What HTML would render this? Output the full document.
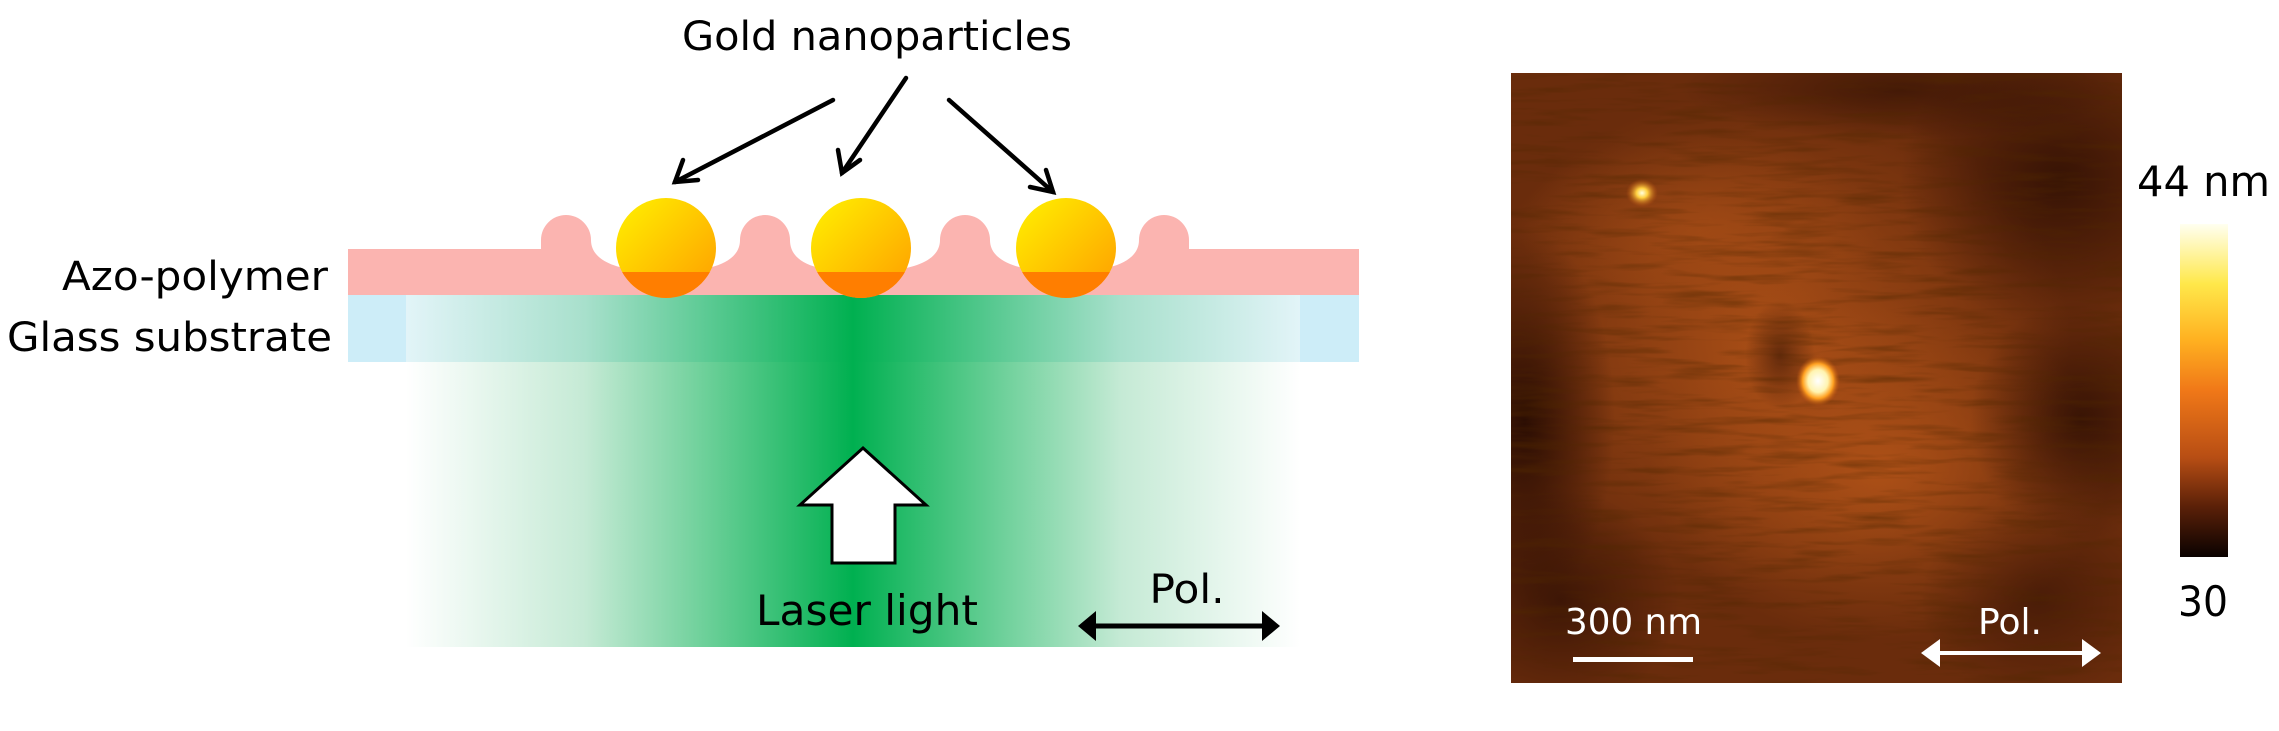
<!DOCTYPE html>
<html><head><meta charset="utf-8"><style>
html,body{margin:0;padding:0;background:#fff;}
svg{display:block;font-family:"DejaVu Sans","Liberation Sans",sans-serif;}
</style></head><body>
<svg width="2279" height="731" viewBox="0 0 2279 731" xmlns="http://www.w3.org/2000/svg">
<defs>
<linearGradient id="beam" x1="406" x2="1300" y1="0" y2="0" gradientUnits="userSpaceOnUse">
<stop offset="0" stop-color="#ffffff"/>
<stop offset="0.2" stop-color="#c5ead5"/>
<stop offset="0.5" stop-color="#00b050"/>
<stop offset="0.8" stop-color="#c5ead5"/>
<stop offset="1" stop-color="#ffffff"/>
</linearGradient>
<linearGradient id="glass" x1="406" x2="1300" y1="0" y2="0" gradientUnits="userSpaceOnUse">
<stop offset="0" stop-color="#e2f4f8"/>
<stop offset="0.2" stop-color="#a8e0cc"/>
<stop offset="0.5" stop-color="#00b050"/>
<stop offset="0.8" stop-color="#a8e0cc"/>
<stop offset="1" stop-color="#e2f4f8"/>
</linearGradient>
<linearGradient id="gold" x1="0" y1="0" x2="1" y2="1">
<stop offset="0" stop-color="#fff200"/>
<stop offset="1" stop-color="#ff9c00"/>
</linearGradient>
<clipPath id="low"><rect x="0" y="272" width="1400" height="40"/></clipPath>
<linearGradient id="cbar" x1="0" y1="0" x2="0" y2="1">
<stop offset="0" stop-color="#fffff0"/>
<stop offset="0.18" stop-color="#ffe84a"/>
<stop offset="0.35" stop-color="#ffb020"/>
<stop offset="0.5" stop-color="#f07818"/>
<stop offset="0.7" stop-color="#b84e14"/>
<stop offset="0.85" stop-color="#5a2008"/>
<stop offset="1" stop-color="#0a0200"/>
</linearGradient>
<radialGradient id="spot1"><stop offset="0" stop-color="#ffffe0"/><stop offset="0.35" stop-color="#ffd040"/><stop offset="1" stop-color="#c05010" stop-opacity="0"/></radialGradient>
<radialGradient id="spot2"><stop offset="0" stop-color="#ffffff"/><stop offset="0.45" stop-color="#fff4b0"/><stop offset="0.7" stop-color="#ffa020"/><stop offset="1" stop-color="#c05010" stop-opacity="0"/></radialGradient>
<radialGradient id="darkR"><stop offset="0" stop-color="#1a0500" stop-opacity="0.8"/><stop offset="1" stop-color="#1a0500" stop-opacity="0"/></radialGradient>
<radialGradient id="lightR"><stop offset="0" stop-color="#b45418" stop-opacity="0.85"/><stop offset="1" stop-color="#b45418" stop-opacity="0"/></radialGradient>
<filter id="noise" x="0" y="0" width="100%" height="100%">
<feTurbulence type="fractalNoise" baseFrequency="0.012 0.12" numOctaves="3" seed="5"/>
<feColorMatrix values="0 0 0 0 0.08  0 0 0 0 0.02  0 0 0 0 0  0 0 0 -1.1 0.6"/>
</filter>
<clipPath id="afm"><rect x="1511" y="73" width="611" height="610"/></clipPath>
</defs>

<rect x="406" y="295" width="894" height="352" fill="url(#beam)"/>
<rect x="348" y="295" width="1011" height="67" fill="#cdedf8"/>
<rect x="406" y="295" width="894" height="67" fill="url(#glass)"/>
<path d="M348,295 L348,249 L541,249 L541,240 A25,25 0 0 1 591,240 C591,262 620,272 666,272 C712,272 740,262 740,240 A25,25 0 0 1 790,240 C790,262 814,272 862,272 C910,272 940,262 940,240 A25,25 0 0 1 990,240 C990,262 1020,272 1065,272 C1110,272 1139,262 1139,240 A25,25 0 0 1 1189,240 L1189,249 L1359,249 L1359,295 Z" fill="#fbb4b0"/>
<g>
<circle cx="666" cy="248" r="50" fill="url(#gold)"/>
<circle cx="666" cy="248" r="50" fill="#ff7e00" clip-path="url(#low)"/>
<circle cx="861" cy="248" r="50" fill="url(#gold)"/>
<circle cx="861" cy="248" r="50" fill="#ff7e00" clip-path="url(#low)"/>
<circle cx="1066" cy="248" r="50" fill="url(#gold)"/>
<circle cx="1066" cy="248" r="50" fill="#ff7e00" clip-path="url(#low)"/>
</g>
<g stroke="#000" stroke-width="4.5" fill="none" stroke-linecap="round">
<line x1="833" y1="100" x2="675" y2="182"/>
<polyline points="683,160 675,182 698,180"/>
<line x1="906" y1="78" x2="842" y2="173"/>
<polyline points="838,150 842,173 860,160"/>
<line x1="949" y1="100" x2="1053" y2="192"/>
<polyline points="1046,170 1053,192 1030,187"/>
</g>
<text x="877" y="50" font-size="40" text-anchor="middle" textLength="390" lengthAdjust="spacingAndGlyphs">Gold nanoparticles</text>
<text x="328" y="290" font-size="40" text-anchor="end" textLength="266" lengthAdjust="spacingAndGlyphs">Azo-polymer</text>
<text x="7" y="351" font-size="40" textLength="325" lengthAdjust="spacingAndGlyphs">Glass substrate</text>
<polygon points="863,448 926,505 895,505 895,563 832,563 832,505 800,505" fill="#fff" stroke="#000" stroke-width="3"/>
<text x="867" y="625" font-size="42" text-anchor="middle" textLength="222" lengthAdjust="spacingAndGlyphs">Laser light</text>
<text x="1187" y="603" font-size="40" text-anchor="middle" textLength="75" lengthAdjust="spacingAndGlyphs">Pol.</text>
<line x1="1090" y1="626" x2="1268" y2="626" stroke="#000" stroke-width="5"/>
<polygon points="1078,626 1096,611 1096,641" fill="#000"/>
<polygon points="1280,626 1262,611 1262,641" fill="#000"/>

<g clip-path="url(#afm)">
<rect x="1511" y="73" width="611" height="610" fill="#6a2c0c"/>
<ellipse cx="1770" cy="340" rx="300" ry="250" fill="url(#lightR)"/>
<ellipse cx="1880" cy="470" rx="230" ry="170" fill="url(#lightR)"/>
<ellipse cx="1700" cy="230" rx="180" ry="100" fill="url(#lightR)" opacity="0.6"/>
<ellipse cx="1525" cy="420" rx="90" ry="190" fill="url(#darkR)"/>
<ellipse cx="1560" cy="600" rx="120" ry="110" fill="url(#darkR)" opacity="0.7"/>
<ellipse cx="2060" cy="180" rx="160" ry="150" fill="url(#darkR)" opacity="0.8"/>
<ellipse cx="2080" cy="420" rx="110" ry="120" fill="url(#darkR)" opacity="0.8"/>
<ellipse cx="1900" cy="90" rx="220" ry="50" fill="url(#darkR)" opacity="0.6"/>
<ellipse cx="2040" cy="600" rx="120" ry="100" fill="url(#darkR)" opacity="0.5"/>
<ellipse cx="1780" cy="355" rx="35" ry="55" fill="url(#darkR)" opacity="0.6"/>
<rect x="1511" y="73" width="611" height="610" filter="url(#noise)"/>
<ellipse cx="1642" cy="193" rx="16" ry="14" fill="url(#spot1)"/>
<ellipse cx="1818" cy="381" rx="22" ry="25" fill="url(#spot2)"/>
</g>
<text x="1565" y="634" font-size="36" fill="#fff" textLength="137" lengthAdjust="spacingAndGlyphs">300 nm</text>
<rect x="1573" y="657" width="120" height="5" fill="#fff"/>
<text x="2010" y="634" font-size="36" fill="#fff" text-anchor="middle" textLength="64" lengthAdjust="spacingAndGlyphs">Pol.</text>
<line x1="1935" y1="653" x2="2087" y2="653" stroke="#fff" stroke-width="4"/>
<polygon points="1921,653 1940,639 1940,667" fill="#fff"/>
<polygon points="2101,653 2082,639 2082,667" fill="#fff"/>
<rect x="2180" y="224" width="48" height="333" fill="url(#cbar)"/>
<text x="2137" y="196" font-size="42" textLength="133" lengthAdjust="spacingAndGlyphs">44 nm</text>
<text x="2203" y="616" font-size="42" text-anchor="middle" textLength="50" lengthAdjust="spacingAndGlyphs">30</text>
</svg>
</body></html>
